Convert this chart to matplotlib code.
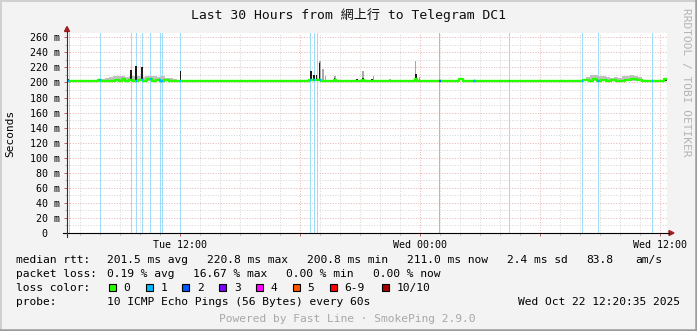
import numpy as np
import matplotlib
matplotlib.use("Agg")
import matplotlib.pyplot as plt
from matplotlib.ticker import MultipleLocator, FuncFormatter
from matplotlib.patches import Rectangle, Polygon
from matplotlib.lines import Line2D

W, H = 697, 331

# Zeit in Stunden ab Tue 00:00
t_start, t_end = 6.34, 36.34
tick_hours = [12, 24, 36]
tick_names = ["Tue 12:00", "Wed 00:00", "Wed 12:00"]

# Median RTT (ms), Stufen
median_t = [6.34, 6.50, 7.90, 8.05, 8.55, 8.75, 8.95, 9.10, 9.25, 9.45, 9.65, 9.90,
            10.15, 10.35, 10.60, 10.80, 11.00, 11.20, 11.45, 12.00, 12.10, 18.45,
            19.05, 19.70, 19.80, 21.10, 21.20, 23.75, 23.85, 24.45, 24.55, 25.95,
            26.15, 31.95, 32.15, 32.45, 32.65, 32.85, 33.05, 33.30, 33.55, 33.80,
            34.05, 34.25, 34.55, 34.85, 35.10, 36.20, 36.34]
median_ms = [202.5, 201.3, 203.0, 201.3, 202.5, 203.5, 202.0, 204.0, 202.5, 203.5, 202.0, 203.5,
             202.0, 204.0, 202.5, 203.5, 202.0, 203.0, 201.3, 202.5, 201.3, 203.0,
             201.3, 203.5, 201.3, 203.0, 201.3, 205.0, 201.3, 202.5, 201.3, 204.0,
             201.3, 202.5, 203.5, 202.5, 204.0, 202.5, 203.5, 202.0, 203.5, 202.0,
             201.3, 203.5, 204.0, 203.0, 201.3, 204.0, 204.0]

# Rauch (obere Grenze, ms)
smoke_t = [6.34, 7.85, 8.05, 8.25, 8.45, 8.65, 8.85, 9.05, 9.25, 9.45, 9.65, 9.85,
           10.05, 10.25, 10.45, 10.65, 10.85, 11.05, 11.25, 11.45, 11.65, 11.85, 12.10,
           32.10, 32.30, 32.50, 32.70, 32.90, 33.10, 33.30, 33.50, 33.70, 33.90,
           34.10, 34.30, 34.50, 34.70, 34.90, 35.10, 36.34]
smoke_hi = [201.3, 205.0, 204.0, 206.0, 207.5, 208.5, 208.0, 209.0, 207.5, 208.5, 209.0, 208.0,
            207.5, 209.0, 208.0, 208.5, 207.0, 208.0, 206.5, 205.5, 204.0, 203.0, 201.3,
            205.0, 207.5, 209.5, 210.0, 209.0, 208.5, 207.0, 206.5, 207.0, 206.0,
            208.0, 209.0, 209.5, 208.0, 207.5, 201.3, 201.3]

# Spitzen
dark_t = [6.39, 9.53, 9.79, 10.09, 12.02, 18.52, 18.67, 18.82, 18.97, 19.72, 20.83,
          21.14, 21.60, 23.80, 36.30]
dark_top = [204.5, 216.5, 221.5, 220.5, 215.0, 215.5, 209.5, 209.5, 226.5, 206.0, 205.0,
            206.0, 204.0, 211.0, 204.0]
light_t = [18.99, 19.15, 19.27, 19.74, 21.14, 21.66, 22.49, 23.77, 23.96]
light_top = [228.5, 218.0, 209.0, 209.0, 215.5, 209.0, 204.0, 229.0, 207.0]

# Paketverlust
loss_t = [6.44, 7.99, 9.58, 9.83, 10.13, 10.54, 10.99, 11.04, 11.09, 12.03, 18.53,
          18.69, 18.86, 18.99, 24.99, 26.69, 26.74, 28.45, 32.12, 32.89, 32.94, 35.63]
loss_n = [1, 1, 1, 1, 1, 1, 1, 1, 1, 1, 1, 1, 1, 1, 2, 1, 1, 1, 1, 1, 1, 1]

loss_names = ["0", "1", "2", "3", "4", "5", "6-9", "10/10"]
loss_colors = ["#26ff00", "#00b8ff", "#0059ff", "#7e00ff", "#ff00ff", "#ff5500",
               "#ff0000", "#a10000"]
band_colors = {1: "#9edcf7", 2: "#9cb8f7"}

rtt_stats = ["201.5 ms avg", "220.8 ms max", "200.8 ms min", "211.0 ms now",
             "2.4 ms sd", "83.8", "am/s"]
loss_stats = ["0.19 % avg", "16.67 % max", "0.00 % min", "0.00 % now"]

mono = "DejaVu Sans Mono"


def px(x, y):
    return x / W, 1 - y / H


fig = plt.figure(figsize=(W / 100, H / 100), dpi=100, facecolor="#f3f3f3")
ax = fig.add_axes([67 / W, (H - 233) / H, 600 / W, 200 / H])
ax.set_facecolor("white")
ax.set_xlim(t_start, t_end)
ax.set_ylim(0, 265.7)

# Gitter
ax.xaxis.set_major_locator(MultipleLocator(6))
ax.xaxis.set_minor_locator(MultipleLocator(1))
ax.yaxis.set_major_locator(MultipleLocator(20))
ax.yaxis.set_minor_locator(MultipleLocator(10))
ax.xaxis.set_major_formatter(FuncFormatter(
    lambda v, p: tick_names[tick_hours.index(round(v))] if round(v) in tick_hours else ""))
ax.yaxis.set_major_formatter(FuncFormatter(lambda v, p: "0  " if v == 0 else f"{int(v)} m"))
ax.set_axisbelow(True)
ax.grid(which="minor", color="#d6d6d6", linestyle=(0, (1, 1.6)), linewidth=0.72)
ax.grid(which="major", color="#eab4b4", linestyle=(0, (1, 1.6)), linewidth=0.72)
ax.tick_params(which="both", direction="out", labelsize=7.2)
ax.tick_params(which="major", length=2.2, width=0.72, color="#c06060", pad=2.8)
ax.tick_params(which="minor", length=1.4, width=0.72, color="#b0b0b0")
for lab in ax.get_xticklabels() + ax.get_yticklabels():
    lab.set_family(mono)
for s in ax.spines.values():
    s.set_visible(False)

# Verlustbalken
for t, n in zip(loss_t, loss_n):
    ax.axvspan(t - 0.025, t + 0.025, color=band_colors[n], lw=0, zorder=1)

# Rauch und Median
ax.fill_between(smoke_t, 201.3, smoke_hi, step="post", color="#c0c0c0", lw=0, zorder=2)
ax.bar(light_t, np.array(light_top) - 201.3, bottom=201.3, width=0.08,
       color="#a8a8a8", lw=0, zorder=2)
ax.bar(dark_t, np.array(dark_top) - 201.3, bottom=201.3, width=0.09,
       color="#1a1a1a", lw=0, zorder=3)
ax.step(median_t, median_ms, where="post", color=loss_colors[0], lw=1.7, zorder=4)
for t, n in zip(loss_t, loss_n):
    i = np.searchsorted(median_t, t, side="right") - 1
    ax.plot([t - 0.03, t + 0.03], [median_ms[i], median_ms[i]],
            color=loss_colors[n], lw=1.7, zorder=5, solid_capstyle="butt")

# Achsen mit Pfeilen
fig.add_artist(Line2D([px(63, 0)[0], px(669, 0)[0]], [px(0, 233)[1]] * 2,
                      color="black", lw=0.8))
fig.add_artist(Line2D([px(67, 0)[0]] * 2, [px(0, 237)[1], px(0, 31)[1]],
                      color="#303030", lw=0.8))
fig.add_artist(Polygon([px(64.5, 31.5), px(69.5, 31.5), px(67, 26.5)],
                       closed=True, color="#a02020", transform=fig.transFigure))
fig.add_artist(Polygon([px(669, 230.5), px(669, 235.5), px(674, 233)],
                       closed=True, color="#a02020", transform=fig.transFigure))

# Rahmen
fig.add_artist(Line2D([0, 1], [1 - 0.5 / H] * 2, color="#d0d0d0", lw=1.4))
fig.add_artist(Line2D([0.5 / W] * 2, [0, 1], color="#d0d0d0", lw=1.4))
fig.add_artist(Line2D([0, 1], [1.2 / H] * 2, color="#9c9c9c", lw=1.8))
fig.add_artist(Line2D([1 - 1.2 / W] * 2, [0, 1], color="#9c9c9c", lw=1.8))

# Texte
fig.text(*px(348.5, 19), "Last 30 Hours from 網上行 to Telegram DC1", ha="center",
         va="baseline", fontsize=9.45, family=[mono, "Noto Sans CJK TC"], color="#101010")
fig.text(*px(10, 133), "Seconds", rotation=90, ha="center", va="center",
         fontsize=8, family=mono)
fig.text(*px(686, 82), "RRDTOOL / TOBI OETIKER", rotation=-90, ha="center",
         va="center", fontsize=8, family=mono, color="#b4b4b4")

fs = 8.12
rows = [263.3, 276.7, 291, 305]
fig.text(*px(16, rows[0]), "median rtt:", fontsize=fs, family=mono, va="baseline")
for x, s in zip([106.7, 207.3, 307.3, 407.3, 507.3, 586, 635], rtt_stats):
    fig.text(*px(x, rows[0]), s, fontsize=fs, family=mono, va="baseline")
fig.text(*px(16, rows[1]), "packet loss:", fontsize=fs, family=mono, va="baseline")
for x, s in zip([106.7, 193.5, 286, 372.7], loss_stats):
    fig.text(*px(x, rows[1]), s, fontsize=fs, family=mono, va="baseline")
fig.text(*px(16, rows[2]), "loss color:", fontsize=fs, family=mono, va="baseline")
sq_x = [108.7, 145.5, 182.3, 219.1, 255.9, 292.7, 329.5, 381.5]
for x, name, c in zip(sq_x, loss_names, loss_colors):
    fig.add_artist(Rectangle(px(x, 290.5), 7 / W, 7 / H, transform=fig.transFigure,
                             facecolor=c, edgecolor="black", lw=0.8))
    fig.text(*px(x + 14.8, rows[2]), name, fontsize=fs, family=mono, va="baseline")
fig.text(*px(16, rows[3]), "probe:", fontsize=fs, family=mono, va="baseline")
fig.text(*px(106.7, rows[3]), "10 ICMP Echo Pings (56 Bytes) every 60s", fontsize=fs,
         family=mono, va="baseline")
fig.text(*px(517.5, rows[3]), "Wed Oct 22 12:20:35 2025", fontsize=fs, family=mono,
         va="baseline")
fig.text(*px(347.5, 322), "Powered by Fast Line · SmokePing 2.9.0", fontsize=fs,
         family=mono, va="baseline", ha="center", color="#a8a8a8")

fig.savefig("out.png", dpi=100, facecolor=fig.get_facecolor())
